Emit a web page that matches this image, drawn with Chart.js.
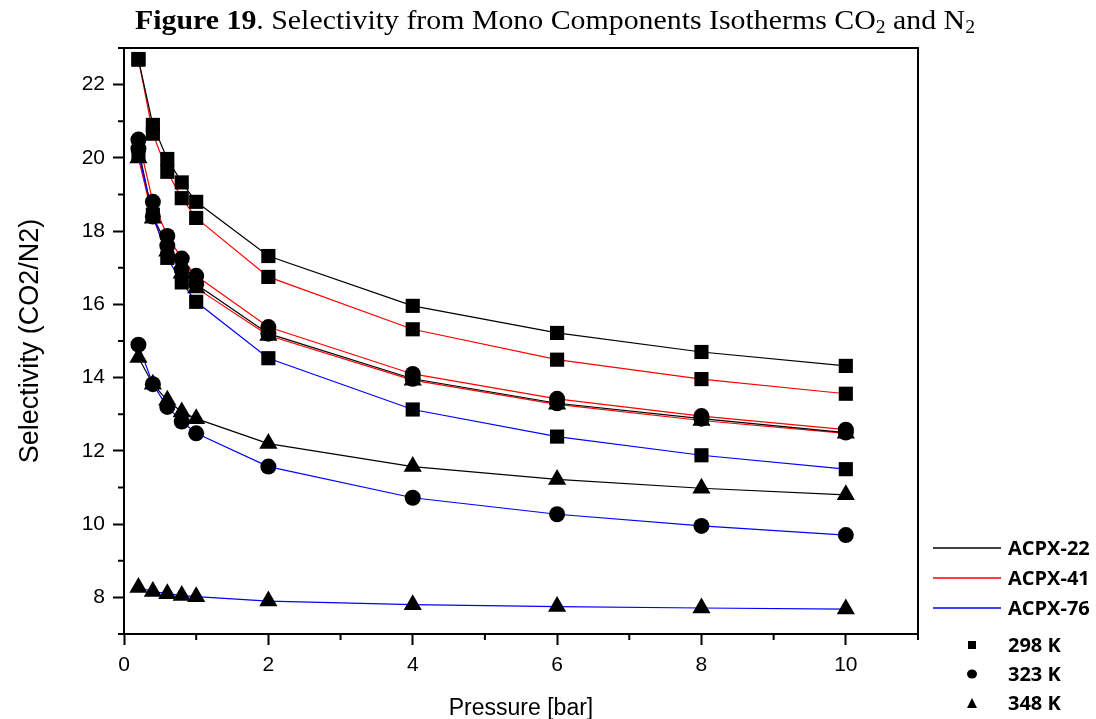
<!DOCTYPE html>
<html>
<head>
<meta charset="utf-8">
<script src="https://cdn.jsdelivr.net/npm/chart.js@4.4.1/dist/chart.umd.min.js"></script>
<style>
  html, body { margin: 0; padding: 0; background: #fff; }
  #wrap { position: relative; width: 1096px; height: 719px; overflow: hidden; }
  #title {
    position: absolute; top: 7px; left: 135px; display: inline-block; white-space: nowrap;
    font-family: "Liberation Serif", "Times New Roman", serif; font-size: 27px; line-height: 27px;
    color: #000; transform-origin: 0 0;
  }
  #title sub { font-size: 0.66em; vertical-align: baseline; position: relative; top: 0.22em; }
  canvas { position: absolute; left: 0; top: 0; }
</style>
</head>
<body>
<div id="wrap">
  <canvas id="selChart" width="1096" height="719"></canvas>
  <div id="title"><b>Figure 19</b>. Selectivity from Mono Components Isotherms CO<sub>2</sub> and N<sub>2</sub></div>
</div>
<script>
// pressure points (bar)
const pressure = [0.2, 0.4, 0.6, 0.8, 1, 2, 4, 6, 8, 10];

// selectivity CO2/N2
const acpx22_298 = [22.68, 20.9, 19.97, 19.33, 18.8, 17.32, 15.96, 15.22, 14.7, 14.32];
const acpx41_298 = [22.7, 20.66, 19.62, 18.9, 18.36, 16.75, 15.32, 14.49, 13.96, 13.56];
const acpx76_298 = [20.1, 18.45, 17.27, 16.6, 16.07, 14.53, 13.13, 12.39, 11.88, 11.5];
const acpx22_323 = [20.25, 18.4, 17.6, 16.95, 16.55, 15.2, 13.97, 13.3, 12.88, 12.5];
const acpx41_323 = [20.5, 18.8, 17.87, 17.25, 16.78, 15.38, 14.1, 13.42, 12.95, 12.58];
const acpx76_323 = [14.9, 13.82, 13.2, 12.8, 12.48, 11.57, 10.72, 10.27, 9.95, 9.7];
const acpx22_348 = [14.55, 13.82, 13.38, 13.06, 12.88, 12.2, 11.57, 11.22, 10.98, 10.8];
const acpx41_348 = [20.0, 18.35, 17.45, 16.85, 16.45, 15.15, 13.93, 13.27, 12.83, 12.48];
const acpx76_348 = [8.27, 8.16, 8.1, 8.05, 8.02, 7.9, 7.8, 7.75, 7.71, 7.68];

const materials = ['ACPX-22', 'ACPX-41', 'ACPX-76'];
const temperatures = ['298 K', '323 K', '348 K'];

// axis ticks
const xTickValues = [0, 2, 4, 6, 8, 10];
const xMinorTicks = [1, 3, 5, 7, 9, 11];
const yTickValues = [8, 10, 12, 14, 16, 18, 20, 22];
const yMinorTicks = [7, 9, 11, 13, 15, 17, 19, 21, 23];

const lineColors = { 'ACPX-22': '#000000', 'ACPX-41': '#ff0000', 'ACPX-76': '#0000ff' };
const markerStyles = { '298 K': 'rect', '323 K': 'circle', '348 K': 'triangle' };
const markerSizes = { rect: 10, circle: 8, triangle: 10.5 };

const series = [
  { material: 'ACPX-22', temp: '298 K', values: acpx22_298 },
  { material: 'ACPX-41', temp: '298 K', values: acpx41_298 },
  { material: 'ACPX-76', temp: '298 K', values: acpx76_298 },
  { material: 'ACPX-22', temp: '323 K', values: acpx22_323 },
  { material: 'ACPX-41', temp: '323 K', values: acpx41_323 },
  { material: 'ACPX-76', temp: '323 K', values: acpx76_323 },
  { material: 'ACPX-22', temp: '348 K', values: acpx22_348 },
  { material: 'ACPX-41', temp: '348 K', values: acpx41_348 },
  { material: 'ACPX-76', temp: '348 K', values: acpx76_348 }
];

function toPoints(values) {
    return pressure.map((p, i) => ({ x: p, y: values[i] }));
}

const datasets = [];
// lines underneath
series.forEach(s => {
    datasets.push({
        label: s.material + ' ' + s.temp,
        data: toPoints(s.values),
        borderColor: lineColors[s.material],
        borderWidth: 1.2,
        pointRadius: 0,
        showLine: true,
        fill: false,
        tension: 0,
        order: 2
    });
});
// markers on top
series.forEach(s => {
    const st = markerStyles[s.temp];
    datasets.push({
        label: s.material + ' ' + s.temp + ' pts',
        data: toPoints(s.values),
        showLine: false,
        pointStyle: st,
        pointRadius: markerSizes[st],
        pointBackgroundColor: '#000',
        pointBorderColor: '#000',
        pointBorderWidth: 0,
        order: 1
    });
});

const tickFont = { family: '"Liberation Sans", Arial, sans-serif', size: 21 };
const xTitleFont = { family: '"Liberation Sans", Arial, sans-serif', size: 23 };
const yTitleFont = { family: '"Liberation Sans", Arial, sans-serif', size: 27 };
const legendFont = 'bold 20px "Open Sans", "DejaVu Sans", sans-serif';

// frame on top/right, minor ticks and the custom legend
const extrasPlugin = {
    id: 'extras',
    afterDraw(chart) {
        const { ctx, chartArea: a, scales: { x, y } } = chart;
        ctx.save();
        ctx.strokeStyle = '#000';
        ctx.lineWidth = 2;
        ctx.beginPath();
        ctx.moveTo(a.left, a.top);
        ctx.lineTo(a.right, a.top);
        ctx.lineTo(a.right, a.bottom);
        ctx.stroke();

        ctx.beginPath();
        xMinorTicks.forEach(v => {
            const px = x.getPixelForValue(v);
            ctx.moveTo(px, a.bottom);
            ctx.lineTo(px, a.bottom + 6);
        });
        yMinorTicks.forEach(v => {
            const py = y.getPixelForValue(v);
            ctx.moveTo(a.left, py);
            ctx.lineTo(a.left - 6, py);
        });
        ctx.stroke();

        // legend: line colours = material
        const lx0 = a.right + 15, lx1 = a.right + 83, tx = a.right + 90;
        ctx.font = legendFont;
        ctx.textBaseline = 'middle';
        ctx.fillStyle = '#000';
        materials.forEach((m, i) => {
            const ly = 548 + i * 30;
            ctx.strokeStyle = lineColors[m];
            ctx.lineWidth = 1.4;
            ctx.beginPath();
            ctx.moveTo(lx0, ly);
            ctx.lineTo(lx1, ly);
            ctx.stroke();
            ctx.fillText(m, tx, ly + 1);
        });
        // legend: marker shape = temperature
        const mx = a.right + 54;
        temperatures.forEach((t, i) => {
            const my = 645 + i * 29;
            ctx.beginPath();
            const st = markerStyles[t];
            if (st === 'rect') {
                ctx.rect(mx - 4, my - 4, 8, 8);
            } else if (st === 'circle') {
                ctx.ellipse(mx, my, 5, 4.5, 0, 0, Math.PI * 2);
            } else {
                ctx.moveTo(mx, my - 5);
                ctx.lineTo(mx + 5, my + 5);
                ctx.lineTo(mx - 5, my + 5);
                ctx.closePath();
            }
            ctx.fill();
            ctx.fillText(t, tx, my + 1);
        });
        ctx.restore();
    }
};

new Chart(document.getElementById('selChart').getContext('2d'), {
    type: 'scatter',
    data: { datasets: datasets },
    options: {
        responsive: false,
        animation: false,
        layout: { padding: { top: 48, right: 178, left: 0, bottom: 0 } },
        plugins: {
            legend: { display: false },
            title: { display: false },
            tooltip: { enabled: false }
        },
        scales: {
            x: {
                type: 'linear',
                min: 0,
                max: 11,
                afterBuildTicks: scale => { scale.ticks = xTickValues.map(v => ({ value: v })); },
                afterFit: scale => { scale.height = 85; },
                ticks: { font: tickFont, color: '#000', padding: 8, maxRotation: 0 },
                grid: { drawOnChartArea: false, drawTicks: true, tickLength: 11, tickWidth: 2, tickColor: '#000' },
                border: { display: true, color: '#000', width: 2 },
                title: { display: true, text: 'Pressure [bar]', font: xTitleFont, color: '#000', padding: { top: 0, bottom: -3 } }
            },
            y: {
                type: 'linear',
                min: 7,
                max: 23,
                afterBuildTicks: scale => { scale.ticks = yTickValues.map(v => ({ value: v })); },
                afterFit: scale => { scale.width = 124; },
                ticks: { font: tickFont, color: '#000', padding: 8 },
                grid: { drawOnChartArea: false, drawTicks: true, tickLength: 11, tickWidth: 2, tickColor: '#000' },
                border: { display: true, color: '#000', width: 2 },
                title: { display: true, text: 'Selectivity (CO2/N2)', font: yTitleFont, color: '#000', padding: { top: 14, bottom: 0 } }
            }
        }
    },
    plugins: [extrasPlugin]
});

// stretch the caption to the width it has in the figure
const titleEl = document.getElementById('title');
const w = titleEl.getBoundingClientRect().width;
titleEl.style.transform = 'scaleX(' + (840 / w) + ')';
</script>
</body>
</html>
